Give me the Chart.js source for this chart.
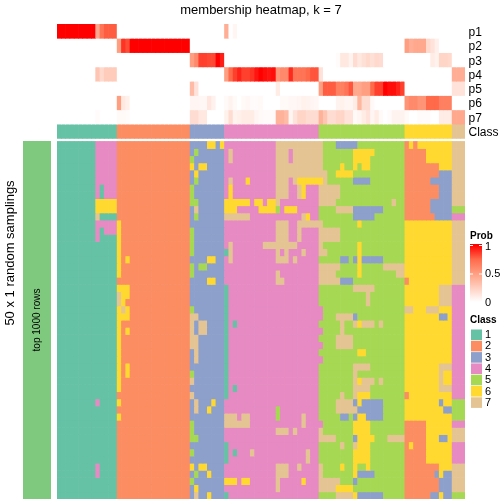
<!DOCTYPE html>
<html>
<head>
<meta charset="utf-8">
<style>
html,body{margin:0;padding:0;background:#fff;width:504px;height:504px;overflow:hidden}
canvas{position:absolute;display:block}
</style>
<script src="https://cdn.jsdelivr.net/npm/chart.js@4"></script>
</head>
<body>
<canvas id="side" width="28" height="358" style="left:23px;top:141px"></canvas>
<canvas id="main" width="504" height="504" style="left:0;top:0"></canvas>
<script>
const titleText = "membership heatmap, k = 7";
const sideTitle = "50 x 1 random samplings";
const sideLabel = "top 1000 rows";
const annotationLabels = ["p1","p2","p3","p4","p5","p6","p7","Class"];
const classNames = ["1","2","3","4","5","6","7"];
const classColors = ["#66C2A5","#FC8D62","#8DA0CB","#E78AC3","#A6D854","#FFD92F","#E5C494"];
const probTicks = ["1","0.5","0"];
const probStops = [[0,"#FFFFFF"],[0.25,"#FFCFBF"],[0.5,"#FF9E81"],[0.75,"#FF6A4B"],[1,"#FF0000"]];
const sideColor = "#7FC97F";

const p1 = [1,1,1,1,1,1,1,1,1,.45,.7,.78,.78,.78,
 0,0,0,0,0,0,0,0,0,0,0,0,0,0,0,0,0,
 0,0,0,0,0,0,0,0,
 .42,0,.05,0,0,0,0,0,0,0,0,0,0,0,0,0,0,0,0,0,0,0,
 0,0,0,0,0,0,0,0,0,0,0,0,0,0,0,0,0,0,0,0,
 0,0,0,0,0,0,0,0,0,0,0,
 0,0,0];
const p2 = [0,0,0,0,0,0,0,0,0,0,0,0,0,0,
 .5,.88,.82,1,1,1,1,1,1,1,1,1,1,1,1,1,1,
 0,0,0,0,0,0,0,0,
 0,0,0,0,0,0,0,0,0,0,0,0,0,0,0,0,0,0,0,0,0,0,
 0,0,0,0,0,0,0,0,0,0,0,0,0,0,0,0,0,0,0,0,
 .5,.42,.45,.45,.45,.2,.15,.08,0,0,0,
 0,0,0];
const p3 = [0,0,0,0,0,0,0,0,0,0,0,0,0,0,
 0,0,0,0,0,0,0,0,0,0,0,0,0,0,0,0,0,
 .5,.6,.85,.85,.83,.83,1,.93,
 0,0,0,0,0,0,0,0,0,0,0,0,0,0,0,0,0,0,0,0,0,0,
 0,0,0,0,.02,.12,.12,.06,.18,.12,.16,.2,.16,.2,.18,0,0,0,0,0,
 0,0,0,0,0,0,.1,.07,.22,.22,.2,
 0,0,0];
const p4 = [0,0,0,0,0,0,0,0,0,.3,.2,.27,.27,.27,
 0,0,0,0,0,0,0,0,0,0,0,0,0,0,0,0,0,
 0,0,0,0,0,0,0,0,
 .5,.75,.85,.92,.85,.85,.88,.95,1,.97,.95,.97,.55,.6,.6,.9,.7,.7,.7,.75,.8,.8,
 .15,0,0,0,0,0,0,0,0,0,0,0,0,0,0,0,0,0,0,0,
 0,0,0,0,0,0,0,0,0,0,0,
 .42,.42,.42];
const p5 = [0,0,0,0,0,0,0,0,0,0,0,0,0,0,
 0,0,0,0,0,0,0,0,0,0,0,0,0,0,0,0,0,
 .35,.15,0,0,0,0,0,0,
 0,0,0,0,0,0,0,0,0,0,0,0,.1,0,0,0,0,0,0,0,0,0,
 .5,.78,.78,.78,.65,.65,.7,.8,.45,.45,.5,.5,.75,.85,.85,1,.97,.97,.92,.85,
 0,0,0,0,0,0,0,0,0,0,0,
 .15,.15,.15];
const p6 = [0,0,0,0,0,0,0,0,0,0,0,0,0,0,
 .5,.12,.08,0,0,0,0,0,0,0,0,0,0,0,0,0,0,
 .05,.05,.04,.04,.13,.07,0,0,
 .03,.06,.03,0,.03,.04,.02,.02,.03,0,0,0,0,.03,.03,.04,.04,.05,.07,.06,.05,.04,
 0,0,0,0,.06,.07,.05,.05,.1,.38,.18,.18,.03,0,0,0,0,0,0,0,
 .55,.6,.6,.55,.55,.75,.75,.75,.65,.65,.65,
 0,0,0];
const p7 = [0,0,0,0,0,0,0,0,0,.02,0,0,0,0,
 .03,.03,.02,0,0,0,0,0,0,0,0,0,0,0,0,0,0,
 .18,.18,.12,.12,0,0,0,0,
 .07,.18,.06,.08,.1,.1,.1,.05,.03,.02,.02,.02,.4,.4,.35,.05,.15,.22,.22,.18,.18,.18,
 .4,.3,.18,.18,.22,.22,.15,.15,.03,.05,.1,.15,.05,.1,.03,0,.02,.06,.06,.06,
 .03,0,0,.02,.02,.02,0,0,.1,.1,.1,
 .45,.45,.45];
const probRows = [p1,p2,p3,p4,p5,p6,p7];

// each token is class-lastColumn, read left to right
const classRow = "1-13 2-30 3-38 4-60 5-80 6-91 7-94";
const samplingRows = [
"1-8 4-13 2-30 3-34 6-36 3-37 6-38 4-50 7-61 5-64 3-69 5-80 2-81 6-82 2-83 6-91 7-94",
"1-8 4-13 2-30 3-31 5-32 3-38 4-39 7-40 4-50 7-53 4-54 7-61 5-68 6-73 5-80 2-85 6-91 7-94",
"1-8 4-13 2-30 5-31 3-38 4-39 7-40 4-50 7-53 4-54 7-61 5-68 6-72 5-80 2-85 6-91 7-94",
"1-8 4-13 2-30 6-31 3-32 6-34 3-38 4-50 7-61 5-65 6-66 5-68 6-69 5-70 6-72 5-80 2-88 6-91 7-94",
"1-8 4-13 2-30 3-31 6-32 3-38 4-50 7-62 5-64 6-68 5-80 2-88 3-91 7-94",
"1-8 4-13 2-30 3-31 5-32 3-38 4-39 7-40 4-43 6-44 4-50 7-53 4-54 7-55 6-61 7-62 5-68 3-72 5-80 2-86 3-91 7-94",
"1-8 4-9 1-10 4-13 2-30 5-31 3-38 4-39 6-40 4-50 7-53 4-55 7-56 6-57 4-60 7-65 5-80 2-88 3-91 7-94",
"1-8 4-9 1-10 4-13 2-30 5-31 3-38 4-39 6-40 4-50 7-53 4-55 7-56 6-57 4-60 7-65 5-80 2-88 3-91 7-94",
"1-8 6-13 2-30 5-32 3-38 6-44 4-45 6-47 4-48 6-50 7-51 4-60 7-64 5-77 7-78 5-80 2-86 3-91 7-94",
"1-8 6-13 2-30 3-31 7-32 3-38 6-41 4-46 6-50 5-51 4-52 6-55 4-60 5-64 7-68 3-75 5-80 2-86 3-91 5-94",
"1-8 7-9 1-13 2-30 3-31 5-32 3-38 7-44 4-56 7-57 6-58 4-60 5-68 3-73 5-80 2-87 3-91 4-94",
"1-8 4-13 6-14 2-30 3-38 4-50 7-53 4-55 7-61 5-69 6-70 5-80 6-91 7-94",
"1-8 4-9 1-10 4-13 6-14 2-30 5-31 3-38 4-50 7-53 4-55 7-56 4-60 7-65 5-80 6-91 7-94",
"1-8 4-9 1-13 6-14 2-30 5-31 3-38 4-50 7-53 4-55 7-56 4-60 7-65 5-80 6-91 7-94",
"1-13 6-14 2-30 5-31 3-38 4-39 7-40 4-47 7-55 4-60 7-61 5-69 6-70 5-80 6-91 7-94",
"1-13 6-14 2-30 5-31 3-38 1-39 7-40 4-50 7-51 4-52 7-53 4-56 7-57 4-60 7-62 5-69 6-70 5-80 6-91 7-94",
"1-13 6-14 2-15 6-16 2-30 3-34 6-36 3-38 4-39 7-40 4-50 7-53 4-54 7-55 4-60 5-65 3-67 5-68 3-69 6-70 3-75 5-80 6-91 7-94",
"1-13 6-14 2-30 5-31 3-32 5-34 3-38 4-60 7-65 5-69 6-70 5-75 7-80 6-91 7-94",
"1-13 6-14 2-30 5-31 3-38 4-50 7-51 4-60 7-64 5-69 6-70 5-78 7-80 6-91 7-94",
"1-13 2-30 3-34 6-36 3-38 4-50 7-52 4-60 7-65 3-68 5-80 2-81 6-91 7-94",
"1-13 6-16 2-30 3-38 1-39 4-60 5-68 7-73 5-80 6-88 7-91 4-94",
"1-13 7-14 6-16 2-30 3-38 1-39 4-60 5-71 7-72 5-80 6-88 7-91 4-94",
"1-13 7-14 6-15 2-30 3-38 1-39 4-60 5-71 7-72 5-80 6-88 7-91 4-94",
"1-13 6-14 7-15 6-16 2-30 5-31 3-38 1-39 4-61 5-80 7-82 6-85 7-88 6-91 4-94",
"1-13 6-16 2-30 7-32 3-38 1-39 4-61 5-64 7-68 3-69 5-80 6-88 3-90 6-91 4-94",
"1-13 6-14 2-30 7-31 3-32 7-34 3-38 1-39 4-40 1-41 4-60 5-65 7-66 5-68 7-69 6-70 7-73 5-74 7-75 5-80 6-91 4-94",
"1-13 6-14 2-15 6-16 2-30 7-31 3-32 7-34 3-38 1-39 4-61 5-65 7-66 5-80 6-91 4-94",
"1-13 6-14 2-30 7-32 3-38 1-39 4-60 5-64 7-68 5-80 6-91 4-94",
"1-13 6-14 2-30 7-32 3-38 1-39 4-61 5-64 7-68 5-80 6-91 4-94",
"1-13 6-14 2-30 3-31 7-32 3-38 1-39 4-60 5-69 6-71 5-80 6-91 4-94",
"1-13 6-14 2-30 3-31 7-32 3-38 1-39 4-61 5-80 6-91 4-94",
"1-13 6-14 2-15 6-16 2-30 3-38 1-39 4-60 5-68 7-72 5-80 6-88 7-91 4-94",
"1-13 6-14 2-15 6-16 2-30 5-31 3-38 1-39 4-60 5-68 7-69 5-80 6-88 7-89 6-91 4-94",
"1-13 6-14 2-30 7-31 3-38 1-39 4-60 5-68 7-69 6-70 7-73 5-74 7-75 5-80 6-88 7-89 6-91 4-94",
"1-13 6-14 2-30 3-38 1-39 4-40 1-41 4-60 5-68 7-72 5-80 6-88 7-91 4-94",
"1-13 2-30 7-31 3-38 1-39 4-60 5-65 7-66 5-68 7-69 6-72 5-80 2-81 6-91 4-94",
"1-8 4-9 1-13 6-14 2-30 3-31 7-32 3-35 6-36 3-38 4-60 5-64 7-68 3-69 6-70 3-75 5-80 6-88 3-89 6-91 5-94",
"1-13 2-30 3-31 7-32 3-34 6-35 3-38 4-50 5-51 4-60 5-64 7-69 3-75 5-80 6-89 3-91 5-94",
"1-13 6-14 2-30 3-38 7-41 4-42 7-44 4-50 5-51 4-56 7-57 4-60 5-65 3-67 5-68 3-69 6-71 3-75 5-80 6-91 5-94",
"1-13 2-30 5-31 3-38 7-44 4-56 7-57 4-61 5-68 6-72 5-80 2-85 6-91 4-94",
"1-13 2-30 5-31 3-38 4-50 7-53 4-54 7-55 4-60 7-61 5-68 6-72 5-80 2-85 6-91 7-94",
"1-13 2-30 5-32 3-38 4-60 7-64 5-68 3-69 6-73 5-76 7-80 2-85 6-88 3-90 6-91 7-94",
"1-13 2-30 3-38 1-39 4-60 5-65 7-66 5-68 7-69 6-72 5-80 2-81 6-82 2-85 6-91 4-94",
"1-13 2-30 5-31 3-38 1-39 4-40 1-41 4-44 7-45 4-57 7-58 4-60 5-68 6-72 5-80 2-85 6-91 4-94",
"1-13 2-30 3-38 1-39 4-57 7-58 4-60 5-68 6-72 5-80 2-85 6-91 4-94",
"1-8 4-9 1-13 2-30 6-31 3-32 6-34 3-38 4-50 7-53 4-55 7-56 4-60 7-61 5-65 6-66 5-68 6-69 5-71 6-72 5-80 2-88 6-91 7-94",
"1-8 4-9 1-13 2-30 3-31 5-32 3-34 6-35 3-38 4-50 7-53 4-60 7-61 5-68 6-69 3-73 5-80 2-87 3-88 6-89 3-91 7-94",
"1-13 2-30 5-31 3-38 6-41 4-42 6-44 4-50 7-51 4-56 6-57 4-60 7-65 5-68 3-69 5-80 2-88 3-91 7-94",
"1-13 2-30 3-31 6-32 3-38 4-50 7-51 4-60 7-64 6-68 5-80 2-88 3-91 7-94",
"1-13 2-30 3-31 7-32 3-34 6-35 3-38 1-39 4-60 5-64 7-68 6-69 3-75 5-80 2-86 3-88 6-89 3-91 5-94"
];

// ---- building ----
const FONT = "'Liberation Sans', Arial, sans-serif";
function expand(tokens){
  const out = [];
  tokens.split(" ").forEach(t => {
    const [c,end] = t.split("-").map(Number);
    while(out.length <= end) out.push(c);
  });
  return out;
}
function hex(c){return [parseInt(c.slice(1,3),16),parseInt(c.slice(3,5),16),parseInt(c.slice(5,7),16)];}
function probColor(v){
  for(let i=1;i<probStops.length;i++){
    if(v<=probStops[i][0]){
      const [a,ca]=probStops[i-1],[b,cb]=probStops[i];
      const t=(v-a)/(b-a),A=hex(ca),B=hex(cb);
      return "rgb("+A.map((x,k)=>Math.round(x+(B[k]-x)*t)).join(",")+")";
    }
  }
  return probStops[probStops.length-1][1];
}
const nRows = samplingRows.length;
const topUnit = 2, gapUnits = 0.42;
const yMax = nRows + gapUnits + topUnit*annotationLabels.length;
const nCols = p1.length;
const columns = Array.from({length:nCols},(_,i)=>String(i+1));
const datasets = [];
probRows.forEach((vals,i)=>{
  const hi = yMax - topUnit*i, lo = hi - topUnit;
  datasets.push({label:annotationLabels[i],data:vals.map(()=>[lo,hi]),backgroundColor:vals.map(probColor)});
});
{
  const hi = yMax - topUnit*probRows.length, lo = hi - topUnit;
  const cl = expand(classRow);
  datasets.push({label:"Class",data:cl.map(()=>[lo,hi]),backgroundColor:cl.map(c=>classColors[c-1])});
}
samplingRows.forEach((row,r)=>{
  const cl = expand(row);
  const hi = nRows - r, lo = hi - 1;
  datasets.push({label:"s"+(r+1),data:cl.map(()=>[lo,hi]),backgroundColor:cl.map(c=>classColors[c-1])});
});

const extras = {
  id:"extras",
  afterDraw(chart){
    const ctx = chart.ctx;
    ctx.save();
    ctx.fillStyle="#000";
    ctx.textBaseline="middle";
    // rotated side texts
    ctx.save();
    ctx.translate(10.5,253);ctx.rotate(-Math.PI/2);ctx.textAlign="center";
    ctx.font="13px "+FONT;ctx.fillText(sideTitle,0,0);
    ctx.restore();
    ctx.save();
    ctx.translate(37,320);ctx.rotate(-Math.PI/2);ctx.textAlign="center";
    ctx.font="10px "+FONT;ctx.fillText(sideLabel,0,0);
    ctx.restore();
    // probability legend
    ctx.textAlign="left";
    ctx.font="bold 10px "+FONT;
    ctx.fillText("Prob",470,236);
    const g = ctx.createLinearGradient(0,245,0,302);
    probStops.forEach(([v,c])=>g.addColorStop(1-v,c));
    ctx.fillStyle=g;
    ctx.fillRect(470,244,12,58);
    ctx.strokeStyle="#fff";ctx.lineWidth=1;
    [245.5,274].forEach(y=>{
      ctx.beginPath();ctx.moveTo(470,y);ctx.lineTo(473,y);ctx.moveTo(479,y);ctx.lineTo(482,y);ctx.stroke();
    });
    ctx.fillStyle="#000";
    ctx.font="11px "+FONT;
    [246.5,274,302.5].forEach((y,i)=>ctx.fillText(probTicks[i],485,y));
    // class legend
    ctx.font="bold 10px "+FONT;
    ctx.fillText("Class",470,320);
    ctx.font="11px "+FONT;
    classNames.forEach((n,i)=>{
      const y=329.5+i*11.3;
      ctx.fillStyle=classColors[i];
      ctx.fillRect(471,y,11,10.6);
      ctx.fillStyle="#000";
      ctx.fillText(n,485,y+5.5);
    });
    ctx.restore();
  }
};

new Chart(document.getElementById("main"),{
  type:"bar",
  data:{labels:columns,datasets},
  plugins:[extras],
  options:{
    responsive:false,animation:false,events:[],
    devicePixelRatio:1,
    layout:{padding:{left:57,right:0,top:0,bottom:5}},
    datasets:{bar:{grouped:false,barPercentage:1,categoryPercentage:1,borderWidth:0}},
    plugins:{
      legend:{display:false},tooltip:{enabled:false},
      title:{display:true,text:titleText,fullSize:false,color:"#000",
        font:{family:FONT,size:13,weight:"normal",lineHeight:1.2},padding:{top:3,bottom:5.4}}
    },
    scales:{
      x:{display:false,offset:true},
      y:{
        position:"right",min:0,max:yMax,
        grid:{display:false,drawTicks:false},border:{display:false},
        afterBuildTicks(s){ s.ticks = annotationLabels.map((t,i)=>({value:yMax-topUnit*i-topUnit/2-0.2})); },
        afterFit(s){ s.width = 39; s.paddingTop = 0; s.paddingBottom = 0; },
        ticks:{autoSkip:false,maxRotation:0,padding:3.5,color:"#000",
          font:{family:FONT,size:12},
          callback:(v,i)=>annotationLabels[i]}
      }
    }
  }
});

new Chart(document.getElementById("side"),{
  type:"bar",
  data:{labels:[sideLabel],datasets:[{data:[[0,1]],backgroundColor:sideColor}]},
  options:{
    responsive:false,animation:false,events:[],devicePixelRatio:1,
    layout:{padding:0},
    datasets:{bar:{barPercentage:1,categoryPercentage:1,borderWidth:0}},
    plugins:{legend:{display:false},tooltip:{enabled:false},title:{display:false}},
    scales:{x:{display:false},y:{display:false,min:0,max:1}}
  }
});
</script>
</body>
</html>
